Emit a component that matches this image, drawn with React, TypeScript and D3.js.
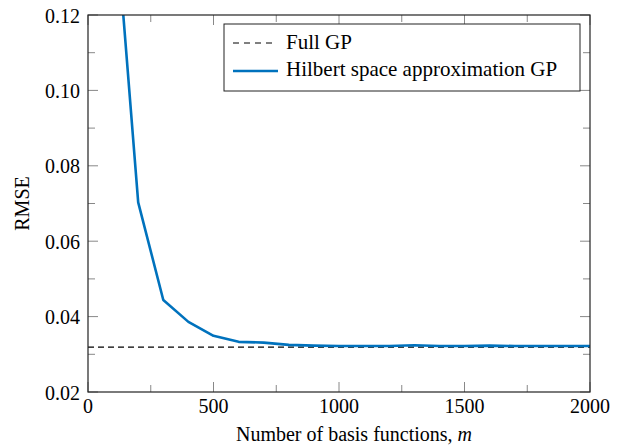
import React from "react";
import * as d3 from "d3";

const mValues = [100, 200, 300, 400, 500, 600, 700, 800, 900, 1000, 1100, 1200, 1300, 1400, 1500, 1600, 1700, 1800, 1900, 2000];
const rmseHilbert = [0.154, 0.0703, 0.0444, 0.0386, 0.0349, 0.0333, 0.0331, 0.0325, 0.0323, 0.0322, 0.0322, 0.0322, 0.0324, 0.0322, 0.0322, 0.0323, 0.0322, 0.0322, 0.0322, 0.0322];
const fullGP = 0.0319;
const xTicks = [0, 500, 1000, 1500, 2000];
const xMinor = [250, 750, 1250, 1750];
const yTicks = [0.02, 0.04, 0.06, 0.08, 0.1, 0.12];
const yMinor = [0.03, 0.05, 0.07, 0.09, 0.11];
const legendLabels = ["Full GP", "Hilbert space approximation GP"];

const W = 623, H = 446;
const L = 88, R = 590, T = 15, B = 392;
const FONT = "'Liberation Serif', 'Times New Roman', serif";
const BLUE = "#0072BD";
const FS = 20;

export default function App() {
  const x = d3.scaleLinear().domain([0, 2000]).range([L, R]);
  const y = d3.scaleLinear().domain([0.02, 0.12]).range([B, T]);
  const line = d3.line<number>().x((_, i) => x(mValues[i])).y((d) => y(d));
  const path = line(rmseHilbert) || "";
  const major = 10, minor = 7;
  return (
    <svg width={W} height={H} style={{ position: "absolute", left: 0, top: 0 }}>
      <defs>
        <clipPath id="clip"><rect x={L} y={T} width={R - L} height={B - T} /></clipPath>
      </defs>
      <rect x={0} y={0} width={W} height={H} fill="white" />
      <g stroke="#888" strokeWidth={1}>
        {xTicks.map((t) => (
          <g key={"xt" + t}>
            <line x1={x(t)} x2={x(t)} y1={B} y2={B - major} />
            <line x1={x(t)} x2={x(t)} y1={T} y2={T + major} />
          </g>
        ))}
        {xMinor.map((t) => (
          <g key={"xm" + t}>
            <line x1={x(t)} x2={x(t)} y1={B} y2={B - minor} />
            <line x1={x(t)} x2={x(t)} y1={T} y2={T + minor} />
          </g>
        ))}
        {yTicks.map((t) => (
          <g key={"yt" + t}>
            <line x1={L} x2={L + major} y1={y(t)} y2={y(t)} />
            <line x1={R} x2={R - major} y1={y(t)} y2={y(t)} />
          </g>
        ))}
        {yMinor.map((t) => (
          <g key={"ym" + t}>
            <line x1={L} x2={L + minor} y1={y(t)} y2={y(t)} />
            <line x1={R} x2={R - minor} y1={y(t)} y2={y(t)} />
          </g>
        ))}
      </g>
      <g clipPath="url(#clip)">
        <line x1={x(0)} x2={x(2000)} y1={y(fullGP)} y2={y(fullGP)} stroke="black" strokeWidth={1.1} strokeDasharray="6,4" />
        <path d={path} fill="none" stroke={BLUE} strokeWidth={2.6} strokeLinejoin="round" />
      </g>
      <rect x={L} y={T} width={R - L} height={B - T} fill="none" stroke="#222" strokeWidth={1.2} />
      <g fontFamily={FONT} fontSize={FS} fill="black">
        {xTicks.map((t) => (
          <text key={"xl" + t} x={x(t)} y={B + 21} textAnchor="middle">{t}</text>
        ))}
        {yTicks.map((t) => (
          <text key={"yl" + t} x={L - 8} y={y(t) + 7.5} textAnchor="end">{t.toFixed(2)}</text>
        ))}
        <text x={(L + R) / 2 + 15} y={441} textAnchor="middle">
          Number of basis functions, <tspan fontStyle="italic">m</tspan>
        </text>
        <text transform={`translate(29,${(T + B) / 2}) rotate(-90)`} textAnchor="middle">RMSE</text>
      </g>
      <g fontFamily={FONT} fontSize={21}>
        <rect x={224} y={24} width={356} height={67} fill="white" stroke="#222" strokeWidth={1} />
        <line x1={233} x2={276} y1={43} y2={43} stroke="black" strokeWidth={1} strokeDasharray="6,5" />
        <text x={286} y={49}>{legendLabels[0]}</text>
        <line x1={233} x2={278} y1={71} y2={71} stroke={BLUE} strokeWidth={2.6} />
        <text x={286} y={76}>{legendLabels[1]}</text>
      </g>
    </svg>
  );
}
